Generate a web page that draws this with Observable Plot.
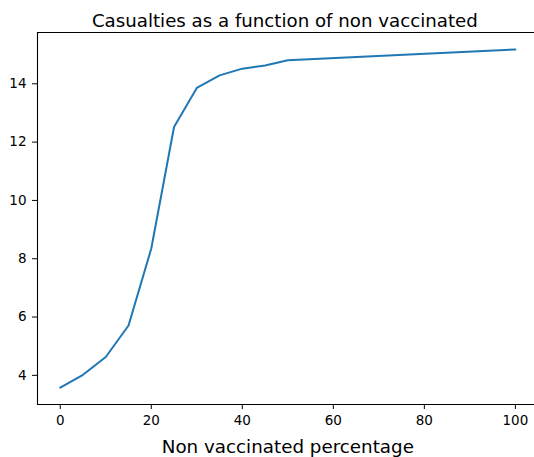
<!DOCTYPE html>
<html>
<head>
<meta charset="utf-8">
<script src="https://cdn.jsdelivr.net/npm/d3@7"></script>
<script src="https://cdn.jsdelivr.net/npm/@observablehq/plot@0.6"></script>
<style>
  html, body { margin: 0; padding: 0; background: white; overflow: hidden; }
</style>
</head>
<body>
<div id="chart"></div>
<script>
const nonVaccinated = [0, 5, 10, 15, 20, 25, 30, 35, 40, 45, 50, 100];
const casualties = [3.58, 4.02, 4.63, 5.71, 8.35, 12.52, 13.86, 14.29, 14.52, 14.63, 14.81, 15.18];
const xTicks = [0, 20, 40, 60, 80, 100];
const yTicks = [4, 6, 8, 10, 12, 14];
const titleText = "Casualties as a function of non vaccinated";
const xLabelText = "Non vaccinated percentage";

const data = nonVaccinated.map((x, i) => ({x, y: casualties[i]}));
const yMin = d3.min(casualties), yMax = d3.max(casualties);
const yPad = (yMax - yMin) * 0.05;

const font = "DejaVu Sans, sans-serif";
const chart = Plot.plot({
  width: 534,
  height: 457,
  marginLeft: 37,
  marginRight: 0,
  marginTop: 32,
  marginBottom: 53,
  style: {fontFamily: font, fontSize: "13px", color: "#000", background: "white"},
  x: {domain: [-5, 104.2], ticks: xTicks, tickSize: 5, tickPadding: 6, label: null},
  y: {domain: [yMin - yPad, yMax + yPad], ticks: yTicks, tickSize: 5, tickPadding: 6, label: null},
  marks: [
    Plot.axisX({ticks: xTicks, tickSize: 5, tickPadding: 6, stroke: "#000", strokeOpacity: 1, fill: "#000", fontSize: 13.5}),
    Plot.axisY({ticks: yTicks, tickSize: 5, tickPadding: 6, stroke: "#000", strokeOpacity: 1, fill: "#000", fontSize: 13.5}),
    Plot.frame({anchor: "left", stroke: "#000", strokeWidth: 1.1}),
    Plot.frame({anchor: "top", stroke: "#000", strokeWidth: 1.1}),
    Plot.frame({anchor: "bottom", stroke: "#000", strokeWidth: 1.1}),
    Plot.line(data, {x: "x", y: "y", stroke: "#1f77b4", strokeWidth: 2}),
    Plot.text([50], {x: d => d, frameAnchor: "top", dy: -18, dx: -3, text: () => titleText, fontSize: 18.2, fill: "#000"}),
    Plot.text([50], {x: d => d, frameAnchor: "bottom", dy: 48, text: () => xLabelText, fontSize: 18.3, fill: "#000"})
  ]
});
document.getElementById("chart").appendChild(chart);
</script>
</body>
</html>
